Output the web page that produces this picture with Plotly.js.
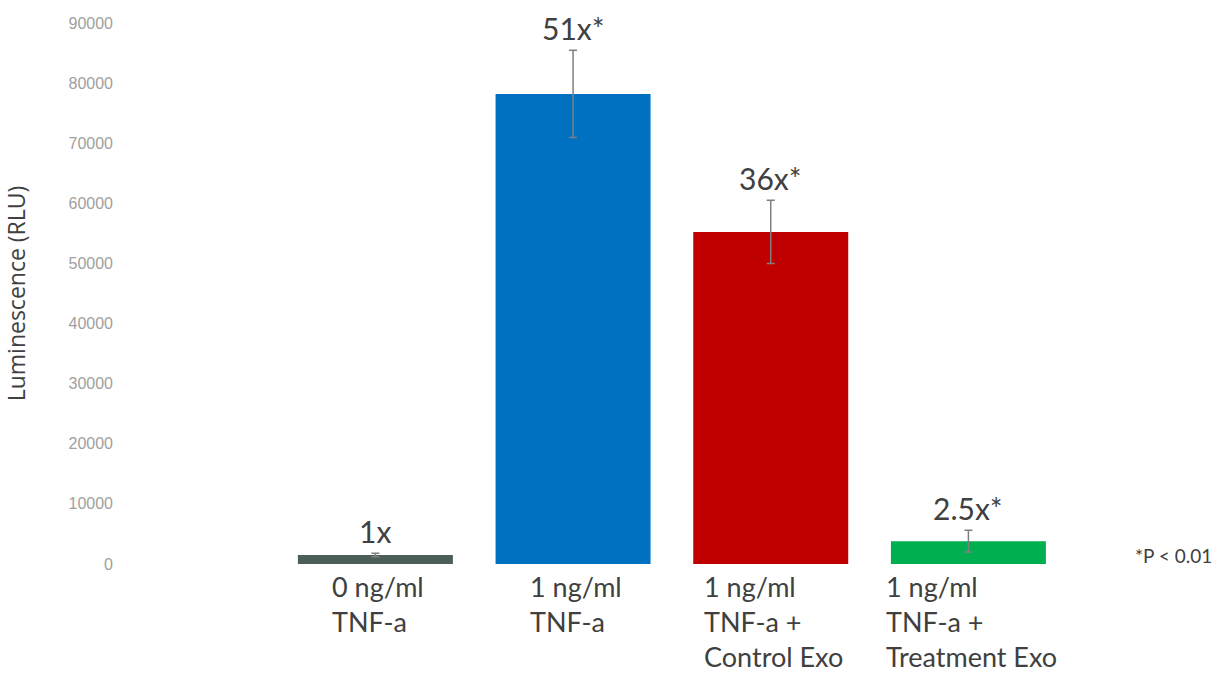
<!DOCTYPE html>
<html>
<head>
<meta charset="utf-8">
<script src="https://cdn.plot.ly/plotly-3.0.1.min.js"></script>
<style>html,body{margin:0;padding:0;background:#fff;}#chart{width:1221px;height:677px;}</style>
</head>
<body>
<div id="chart"></div>
<script>
// ---- data ----
const categories = ['0 ng/ml<br>TNF-a', '1 ng/ml<br>TNF-a', '1 ng/ml<br>TNF-a +<br>Control Exo', '1 ng/ml<br>TNF-a +<br>Treatment Exo'];
const values = [1500, 78200, 55250, 3800];
const errors = [300, 7250, 5260, 1820];
const foldLabels = ['1x', '51x*', '36x*', '2.5x*'];
const barColors = ['#4b5f57', '#0070c0', '#c00000', '#00b050'];
const yTicks = [0, 10000, 20000, 30000, 40000, 50000, 60000, 70000, 80000, 90000];
const footnote = '*P < 0.01';
const yTitle = 'Luminescence (RLU)';

const xIdx = categories.map((c, i) => i);

const trace = {
  type: 'bar',
  x: xIdx,
  y: values,
  marker: { color: barColors },
  error_y: { type: 'data', array: errors, visible: true, color: '#7f7f7f', thickness: 1.5, width: 4 },
  hoverinfo: 'none'
};

const annotations = [];
categories.forEach((c, i) => {
  annotations.push({
    x: i, xref: 'x', y: 0, yref: 'paper', yanchor: 'top', xanchor: 'center',
    yshift: -4, xshift: 3, text: c, align: 'left', showarrow: false,
    font: { family: 'Lato, "Open Sans", sans-serif', size: 27, color: '#404040' }
  });
  annotations.push({
    x: i, xref: 'x', y: values[i] + errors[i], yref: 'y', yanchor: 'bottom', xanchor: 'center',
    yshift: 2, text: foldLabels[i], showarrow: false,
    font: { family: 'Lato, "Open Sans", sans-serif', size: 30, color: '#404040' }
  });
});
annotations.push({
  x: 1, xref: 'paper', xanchor: 'left', xshift: 46, y: 0, yref: 'paper', yanchor: 'middle', yshift: 9,
  text: footnote, showarrow: false,
  font: { family: 'Lato, "Open Sans", sans-serif', size: 19, color: '#404040' }
});

const layout = {
  width: 1221, height: 677,
  margin: { l: 120, r: 134, t: 23, b: 113 },
  paper_bgcolor: '#ffffff', plot_bgcolor: '#ffffff',
  showlegend: false,
  bargap: 0.216,
  xaxis: {
    range: [-1.292, 3.6], showticklabels: false, showgrid: false, zeroline: false, showline: false, ticks: ''
  },
  yaxis: {
    range: [0, 90000], tickvals: yTicks, ticktext: yTicks.map(String),
    showgrid: false, zeroline: false, showline: false, ticks: '',
    ticklabelstandoff: 6,
    tickfont: { family: '"Liberation Sans Narrow", "Arial Narrow", "Liberation Sans", sans-serif', size: 16, color: '#a0a0a0' },
    title: { text: yTitle, standoff: 40, font: { family: '"Open Sans", sans-serif', size: 23, color: '#404040' } }
  },
  annotations: annotations
};

Plotly.newPlot('chart', [trace], layout, { displayModeBar: false, staticPlot: true });
</script>
</body>
</html>
